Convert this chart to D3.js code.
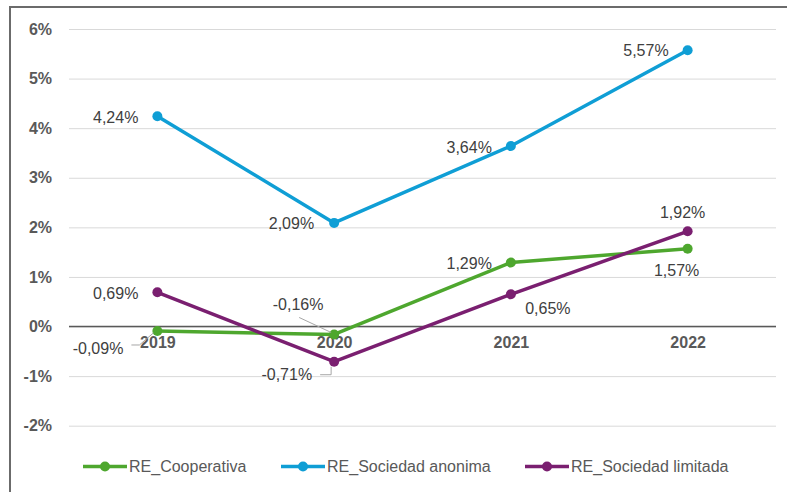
<!DOCTYPE html>
<html>
<head>
<meta charset="utf-8">
<script src="https://cdn.jsdelivr.net/npm/d3@7"></script>
<style>
  html, body { margin: 0; padding: 0; background: #fff; }
  svg { display: block; font-family: "Liberation Sans", Arial, sans-serif; }
</style>
</head>
<body>
<svg id="chart" width="787" height="492"></svg>
<script>
// Years on the category axis
const years = ["2019", "2020", "2021", "2022"];

// Economic return (%) by company type
const cooperativa = [-0.09, -0.16, 1.29, 1.57];
const anonima = [4.24, 2.09, 3.64, 5.57];
const limitada = [0.69, -0.71, 0.65, 1.92];

// Value-axis ticks (%)
const yTicks = [-2, -1, 0, 1, 2, 3, 4, 5, 6];

// Series names shown in the legend
const seriesNames = ["RE_Cooperativa", "RE_Sociedad anonima", "RE_Sociedad limitada"];

const series = [
  { name: seriesNames[0], values: cooperativa, color: "#4EA72E",
    // label placement relative to each point: dx, dy, text-anchor, leader line
    labels: [
      { dx: -34, dy: 17, anchor: "end", leader: "coopFirst" },
      { dx: -36, dy: -30, anchor: "middle", leader: "coopSecond" },
      { dx: -19, dy: 1, anchor: "end" },
      { dx: -11, dy: 22, anchor: "middle" }
    ] },
  { name: seriesNames[1], values: anonima, color: "#0F9ED5",
    labels: [
      { dx: -19, dy: 1, anchor: "end" },
      { dx: -20, dy: 0, anchor: "end" },
      { dx: -19, dy: 1, anchor: "end" },
      { dx: -19, dy: 0, anchor: "end" }
    ] },
  { name: seriesNames[2], values: limitada, color: "#7A1F70",
    labels: [
      { dx: -19, dy: 1, anchor: "end" },
      { dx: -22, dy: 13, anchor: "end", leader: "limSecond" },
      { dx: 37, dy: 14, anchor: "middle" },
      { dx: -5, dy: -19, anchor: "middle" }
    ] }
];

const svg = d3.select("#chart");

const x = d3.scalePoint().domain(years).range([69, 776]).padding(0.5);
const y = d3.scaleLinear().domain([-2, 6]).range([425.7, 29]);

const esLocale = d3.formatLocale({ decimal: ",", thousands: ".", grouping: [3], currency: ["", " €"], minus: "-" });
const fmtLabel = v => esLocale.format(".2f")(v) + "%";
const fmtTick = v => esLocale.format("d")(v) + "%";

// Outer frame (left and top edges)
svg.append("path")
  .attr("d", "M10,492 L10,7 L787,7")
  .attr("fill", "none")
  .attr("stroke", "#6b6b6b")
  .attr("stroke-width", 2);

// Horizontal gridlines and value labels
const yAxis = d3.axisLeft(y).tickValues(yTicks).tickSize(-(776 - 69)).tickFormat(fmtTick).tickPadding(17);
const gy = svg.append("g").attr("transform", "translate(69,0)").call(yAxis);
gy.select(".domain").remove();
gy.selectAll(".tick line").attr("stroke", "#d9d9d9").attr("stroke-width", 1);
gy.selectAll(".tick text")
  .attr("fill", "#595959")
  .attr("font-size", 16)
  .attr("font-weight", "bold");

// Zero baseline
svg.append("line")
  .attr("x1", 69).attr("x2", 776)
  .attr("y1", y(0)).attr("y2", y(0))
  .attr("stroke", "#595959").attr("stroke-width", 1.5);

// Category labels sit just under the zero line
const xAxis = d3.axisBottom(x).tickSize(0).tickPadding(10);
const gx = svg.append("g").attr("transform", `translate(0,${y(0)})`).call(xAxis);
gx.select(".domain").remove();
gx.selectAll(".tick text")
  .attr("fill", "#595959")
  .attr("font-size", 16)
  .attr("font-weight", "bold");

// Lines and markers
const line = d3.line().x((d, i) => x(years[i])).y(d => y(d));
series.forEach(s => {
  const g = svg.append("g");
  g.append("path")
    .attr("d", line(s.values))
    .attr("fill", "none")
    .attr("stroke", s.color)
    .attr("stroke-width", 3.5)
    .attr("stroke-linejoin", "round");
  g.selectAll("circle").data(s.values).join("circle")
    .attr("cx", (d, i) => x(years[i]))
    .attr("cy", d => y(d))
    .attr("r", 5)
    .attr("fill", s.color);
});

// Data labels with leader lines where the label was moved away from its point
const labelLayer = svg.append("g");
series.forEach(s => {
  s.values.forEach((v, i) => {
    const px = x(years[i]), py = y(v);
    const L = s.labels[i];
    const tx = px + L.dx, ty = py + L.dy;
    labelLayer.append("text")
      .attr("x", tx).attr("y", ty).attr("dy", "0.36em")
      .attr("text-anchor", L.anchor)
      .attr("font-size", 16)
      .attr("fill", "#404040")
      .text(fmtLabel(v));
    let pts = null;
    if (L.leader === "coopFirst") {
      pts = [[tx + 8, ty - 3], [tx + 16, ty - 3], [px - 4, py + 2]];
    } else if (L.leader === "coopSecond") {
      pts = [[tx + 1, ty + 13], [px - 3, py - 2]];
    } else if (L.leader === "limSecond") {
      pts = [[tx + 8, ty], [px - 3, ty], [px - 3, py + 5]];
    }
    if (pts) {
      labelLayer.append("path")
        .attr("d", d3.line()(pts))
        .attr("fill", "none")
        .attr("stroke", "#a6a6a6")
        .attr("stroke-width", 1);
    }
  });
});

// Legend
const legendX = [83, 281, 525];
const legendY = 466.5;
series.forEach((s, i) => {
  const g = svg.append("g").attr("transform", `translate(${legendX[i]},${legendY})`);
  g.append("line").attr("x1", 0).attr("x2", 44).attr("y1", 0).attr("y2", 0)
    .attr("stroke", s.color).attr("stroke-width", 3.5);
  g.append("circle").attr("cx", 22).attr("cy", 0).attr("r", 5).attr("fill", s.color);
  g.append("text").attr("x", 46).attr("y", 0).attr("dy", "0.36em")
    .attr("font-size", 16).attr("fill", "#595959")
    .text(s.name);
});
</script>
</body>
</html>
